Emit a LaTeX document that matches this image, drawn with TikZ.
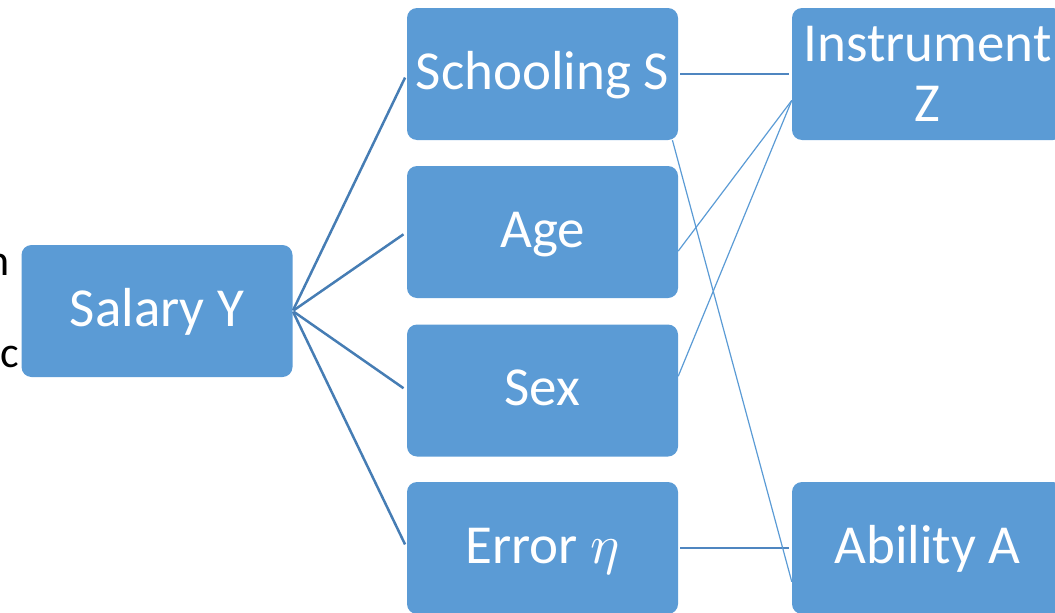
\documentclass[tikz,border=0pt]{standalone}
\usepackage{fontspec}
\usepackage{unicode-math}
\setmainfont{Carlito}
\setmathfont{Latin Modern Math}
\definecolor{boxblue}{HTML}{5B9BD5}
\definecolor{linkdark}{HTML}{467DB4}
\definecolor{linkmid}{HTML}{4F86C0}
\begin{document}
\begin{tikzpicture}[x=1pt,y=-1pt,
  boxnode/.style={rectangle, rounded corners=10pt, fill=boxblue, text=white,
    minimum width=271pt, minimum height=132pt, inner sep=0pt, align=center,
    font=\fontsize{55}{60}\selectfont},
  onebox/.style={boxnode, text height=40pt, text depth=10pt},
  thicklink/.style={draw=linkdark, line width=2.5pt},
  midlink/.style={draw=linkmid, line width=2.5pt},
  thinlink/.style={draw=boxblue, line width=1.2pt},
  sidetext/.style={text=black, inner sep=0pt, font=\fontsize{44}{50}\selectfont}]
\useasboundingbox (0,0) rectangle (1055,613);
\node[sidetext, anchor=base west] (n1) at (-14,275) {n};
\node[sidetext, anchor=base east] (c1) at (19,367) {c};
\node[onebox] (Y) at (157,311) {Salary Y};
\node[onebox] (S) at (542.5,74) {Schooling S};
\node[onebox] (G) at (542.5,232) {Age};
\node[onebox] (X) at (542.5,390.5) {Sex};
\node[onebox] (E) at (542.5,548) {Error \(\eta\)};
\node[boxnode] (Z) at (927.5,74) {Instrument\\Z};
\node[onebox] (A) at (927.5,548) {Ability A};
\foreach \t in {S,G,X,E} {
  \draw[thicklink, shorten <=1pt, shorten >=4pt] (Y.east) -- (\t.west);
}
\draw[midlink, shorten <=2pt, shorten >=3pt] (S.east) -- (Z.west);
\draw[midlink, shorten <=2pt, shorten >=3pt] (E.east) -- (A.west);
\draw[thinlink] (S.-27) -- (A.194);
\draw[thinlink] (G.-8.4) -- (Z.191);
\draw[thinlink] (X.6.5) -- (Z.191);
\end{tikzpicture}
\end{document}
